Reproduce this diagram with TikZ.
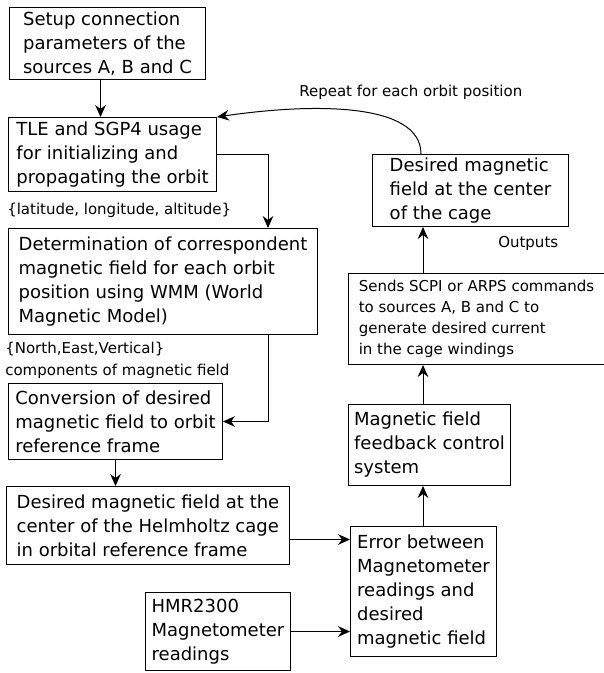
\documentclass[tikz,border=0pt]{standalone}
\usepackage{fontspec}
\setmainfont{DejaVu Sans}
\usetikzlibrary{arrows.meta,calc,positioning}

\tikzset{
  blk/.style={draw, line width=0.75pt, align=left, anchor=north west,
    inner xsep=4pt, inner ysep=1pt, font=\fontsize{13.5}{18}\selectfont},
  lbl/.style={align=left, inner sep=0pt, font=\fontsize{11.25}{16.5}\selectfont},
  arr/.style={-{Stealth[length=9pt,width=8pt,inset=3pt]}, line width=0.75pt},
}

\begin{document}
\begin{tikzpicture}[x=0.75pt,y=-0.75pt]
    \useasboundingbox (0,0) rectangle (603,673);
    % blocks
    \node[blk, minimum width=147pt, minimum height=54pt] (setup) at (9,7)
      {Setup connection\\parameters of the\\sources A, B and C};
    \node[blk, minimum width=156pt, minimum height=55.5pt] (tle) at (8,117)
      {TLE and SGP4 usage\\for initializing and\\propagating the orbit};
    \node[blk, minimum width=231.75pt, minimum height=79.5pt] (wmm) at (8,228)
      {Determination of correspondent\\magnetic field for each orbit\\position using WMM (World\\Magnetic Model)};
    \node[blk, minimum width=160.5pt, minimum height=57pt] (conv) at (8,383)
      {Conversion of desired\\magnetic field to orbit\\reference frame};
    \node[blk, minimum width=212.25pt, minimum height=58.5pt] (helm) at (6,486)
      {Desired magnetic field at the\\center of the Helmholtz cage\\in orbital reference frame};
    \node[blk, minimum width=108.75pt, minimum height=58.5pt] (hmr) at (145,592)
      {HMR2300\\Magnetometer\\readings};
    \node[blk, minimum width=109.5pt, minimum height=97.5pt] (error) at (350,526)
      {Error between\\Magnetometer\\readings and\\desired\\magnetic field};
    \node[blk, minimum width=121.5pt, minimum height=60.75pt] (ctrl) at (348,404)
      {Magnetic field\\feedback control\\system};
    \node[blk, minimum width=192pt, minimum height=68.25pt, inner xsep=7.5pt,
      font=\fontsize{11.25}{15.75}\selectfont] (scpi) at (348,273)
      {Sends SCPI or ARPS commands\\to sources A, B and C to\\generate desired current\\in the cage windings};
    \node[blk, minimum width=147pt, minimum height=54pt] (cage) at (372,154)
      {Desired magnetic\\field at the center\\of the cage};
    % labels
    \node[lbl, anchor=west] (repeat) at (299,92) {Repeat for each orbit position};
    \node[lbl, anchor=west] (latlon) at (7,210) {\{latitude, longitude, altitude\}};
    \node[lbl, anchor=north west] (neu) at (5,342) {\{North,East,Vertical\}\\components of magnetic field};
    \node[lbl, anchor=west] (outputs) at (498,243) {Outputs};
    % connectors
    \coordinate (bend) at (268,0);
    \coordinate (fb) at (423,0);
    \coordinate (loop) at (421,0);
    \coordinate (s1) at ([xshift=-5.25pt]setup.south);
    \coordinate (h1) at ([yshift=-10.5pt]helm.east);
    \draw[arr] (s1) -- (s1 |- tle.north);
    \draw[arr] (tle.east) -| (bend |- wmm.north);
    \draw[arr] (bend |- wmm.south) |- (conv.east);
    \draw[arr] (conv.south) -- (conv.south |- helm.north);
    \draw[arr] (h1) -- (h1 -| error.west);
    \draw[arr] (hmr.east) -- (hmr.east -| error.west);
    \draw[arr] (fb |- error.north) -- (fb |- ctrl.south);
    \draw[arr] (fb |- ctrl.north) -- (fb |- scpi.south);
    \draw[arr] (fb |- scpi.north) -- (fb |- cage.south);
    \draw[arr] (loop |- cage.north) .. controls +(0,-52) and +(95,-14) .. (tle.north east);
\end{tikzpicture}
\end{document}
